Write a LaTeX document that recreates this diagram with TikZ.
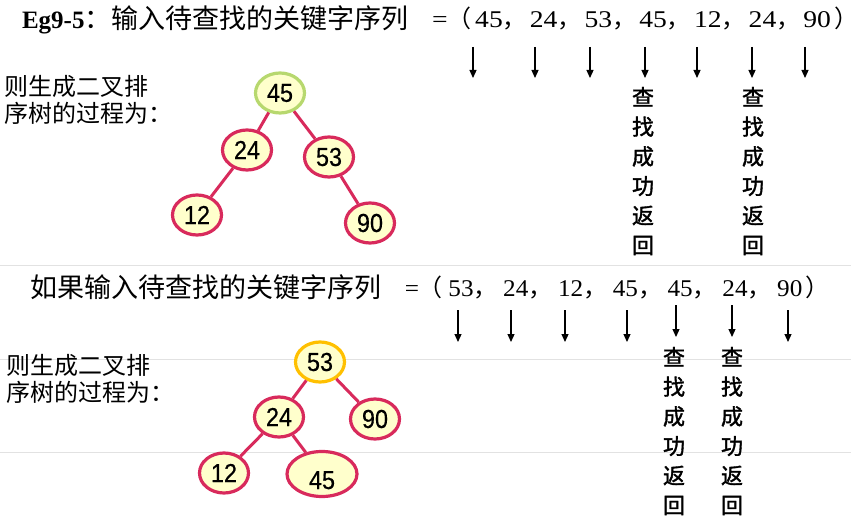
\documentclass[tikz,border=0pt]{standalone}
\usepackage{fontspec}
\setmainfont{Liberation Serif}
\newfontfamily\wideserif[FakeStretch=1.15]{Liberation Serif}
\newfontfamily\midserif[FakeStretch=1.05]{Liberation Serif}
\newfontfamily\cjk{Noto Sans CJK SC}
\newfontfamily\cjkhalf[RawFeature=+palt]{Noto Sans CJK SC}
\newfontfamily\cjkbold[FakeBold=1.6]{Noto Sans CJK SC}
\newfontfamily\keyfont[FakeStretch=0.9, FakeBold=0.5]{Liberation Sans}
\usetikzlibrary{arrows.meta,shapes.geometric}
\definecolor{keyred}{HTML}{D82A5C}
\definecolor{keyfill}{HTML}{FFFFCC}
\definecolor{rootgreen}{HTML}{B7D86E}
\definecolor{rootorange}{HTML}{FFC000}
\definecolor{ruleline}{HTML}{E2E2E2}

\begin{document}
\begin{tikzpicture}[
  x=1pt, y=-1pt,
  every node/.style={inner sep=0pt, outer sep=0pt},
  keynode/.style={ellipse, draw=keyred, line width=3.2pt, fill=keyfill,
                  minimum width=49pt, minimum height=40pt, outer sep=1.6pt,
                  font=\keyfont\fontsize{26}{26}\selectfont},
  treeedge/.style={draw=keyred, line width=3pt},
  seqtext/.style={anchor=base, font=\wideserif\fontsize{24}{24}\selectfont},
  seqtextb/.style={anchor=base, font=\midserif\fontsize{24}{24}\selectfont},
  commatext/.style={anchor=base west, font=\cjk\fontsize{24}{24}\selectfont},
  closetext/.style={anchor=base west, font=\cjkhalf\fontsize{24}{24}\selectfont},
  titletext/.style={anchor=base west, font=\cjk\fontsize{27}{27}\selectfont},
  lefttext/.style={anchor=west, align=left, font=\cjk\fontsize{24}{27}\selectfont},
  hittext/.style={anchor=north, align=center, font=\cjkbold\fontsize{22}{29.6}\selectfont},
  seqarrow/.style={-{Triangle[length=8pt,width=7pt]}, line width=1.2pt},
  ruleline/.style={draw=ruleline, line width=1pt}
]
\useasboundingbox (0,0) rectangle (851,521);

% faint slide rules
\draw[ruleline] (0,266) -- (851,266);
\draw[ruleline] (0,359) -- (851,359);
\draw[ruleline] (0,452) -- (851,452);

% First sequence
\node[anchor=base west, font=\fontsize{25}{25}\selectfont] (eg) at (22,28.5)
  {\textbf{Eg9-5}{\cjk\fontsize{27}{27}\selectfont ：输入待查找的关键字序列}};
\node[seqtext] (eq1) at (440,28) {=};
\node[commatext] (lp1) at (460,28) {\makebox[11pt][r]{（}};
\foreach \v [count=\i] in {45,24,53,45,12,24,90}
  \node[seqtext] (a\i) at ({489+54.7*(\i-1)},28) {\v};
\foreach \i in {1,...,6}
  \node[commatext] (ac\i) at (a\i.base east) {，};
\node[closetext] (rp1) at (835,28) {）};

\foreach \x [count=\i] in {473,535,590,645,697,752,805} {
  \coordinate (au\i) at (\x,47);
  \coordinate (ad\i) at (\x,78);
  \draw[seqarrow] (au\i) -- (ad\i);
}
\node[hittext] (hit1) at (643,87) {查\\找\\成\\功\\返\\回};
\node[hittext] (hit2) at (753,87) {查\\找\\成\\功\\返\\回};

% First tree
\node[lefttext] (say1) at (5,100) {则生成二叉排\\序树的过程为：};
\node[keynode, draw=rootgreen] (t45) at (280,93) {45};
\node[keynode] (t24) at (247,150) {24};
\node[keynode] (t53) at (329,157) {53};
\node[keynode] (t12) at (197,215) {12};
\node[keynode] (t90) at (370,223) {90};
\draw[treeedge] (t45) -- (t24);
\draw[treeedge] (t45) -- (t53);
\draw[treeedge] (t24) -- (t12);
\draw[treeedge] (t53) -- (t90);

% Second sequence
\node[titletext] (ifin) at (30,297.5) {如果输入待查找的关键字序列};
\node[seqtextb] (eq2) at (412,297) {=};
\node[commatext] (lp2) at (431,297) {\makebox[11pt][r]{（}};
\foreach \v [count=\i] in {53,24,12,45,45,24,90}
  \node[seqtextb] (b\i) at ({461+54.8*(\i-1)},297) {\v};
\foreach \i in {1,...,6}
  \node[commatext] (bc\i) at (b\i.base east) {，};
\node[closetext] (rp2) at (806,297) {）};

\foreach \x/\top/\bot [count=\i] in {458/310/342,511/310/342,565/310/342,627/310/342,
                                   676/305/337,732/305/337,788/310/342} {
  \coordinate (bu\i) at (\x,\top);
  \coordinate (bd\i) at (\x,\bot);
  \draw[seqarrow] (bu\i) -- (bd\i);
}
\node[hittext] (hit3) at (674,347) {查\\找\\成\\功\\返\\回};
\node[hittext] (hit4) at (732,347) {查\\找\\成\\功\\返\\回};

% Second tree
\node[lefttext] (say2) at (6,379) {则生成二叉排\\序树的过程为：};
\node[keynode, draw=rootorange] (u53) at (320,362) {53};
\node[keynode] (u24) at (279,417) {24};
\node[keynode] (u90) at (375,419) {90};
\node[keynode] (u12) at (224,473) {12};
\node[keynode, minimum width=70pt, minimum height=45pt,
      text height=30pt, text depth=0pt] (u45) at (322,474) {45};
\draw[treeedge] (u53) -- (u24);
\draw[treeedge] (u53) -- (u90);
\draw[treeedge] (u24) -- (u12);
\draw[treeedge] (u24) -- (u45);

\end{tikzpicture}
\end{document}
